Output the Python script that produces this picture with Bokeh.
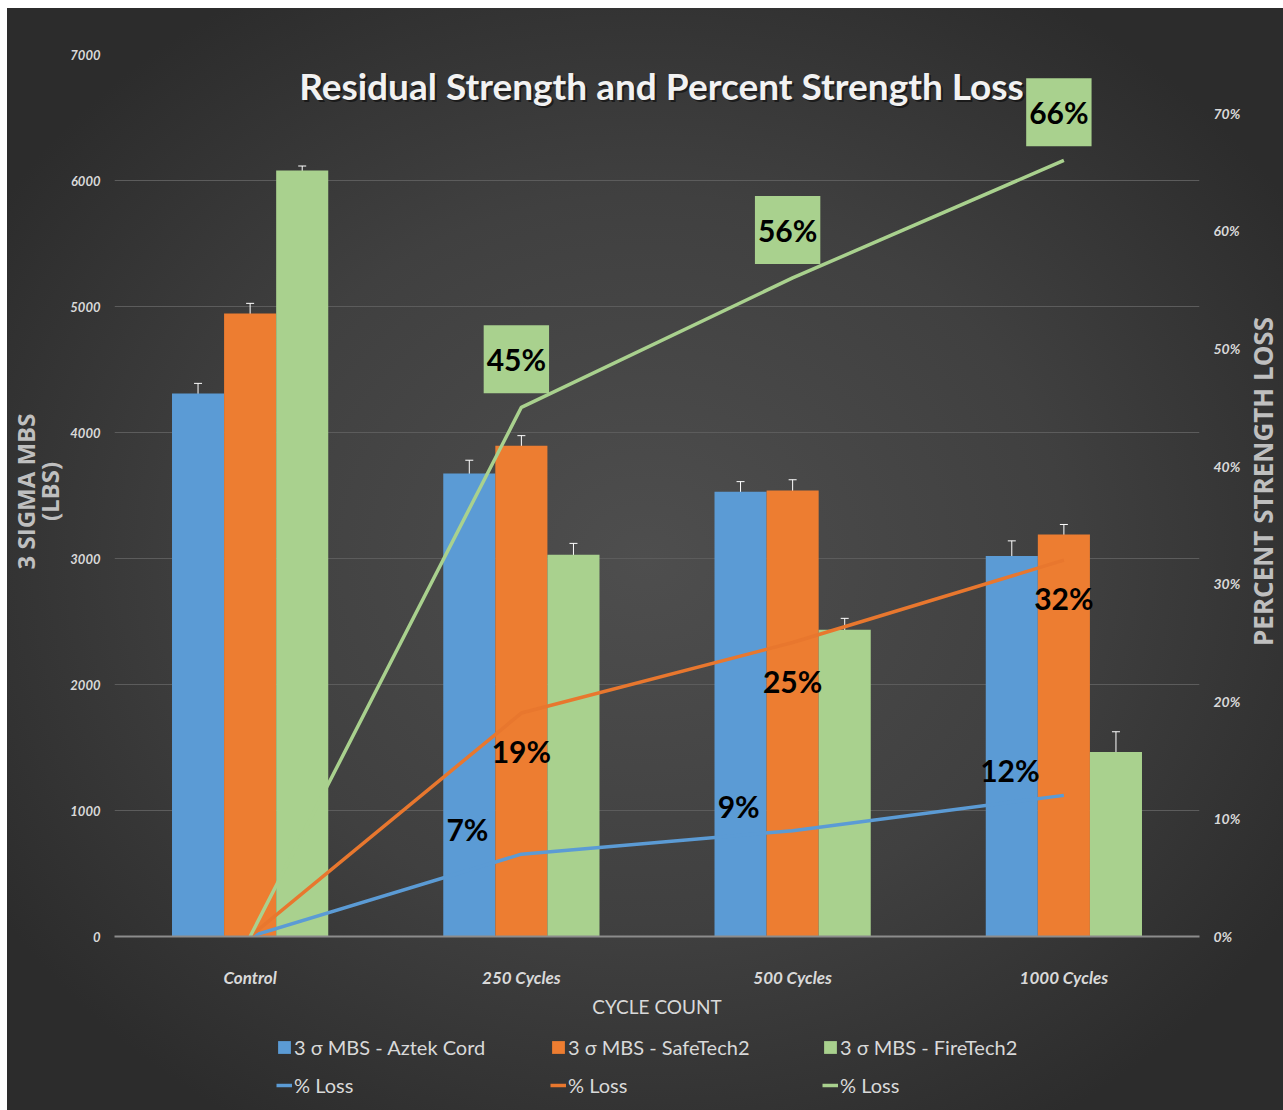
import math
from bokeh.plotting import figure
from bokeh.models import (ColumnDataSource, FactorRange, Range1d, LinearAxis, Whisker, TeeHead,
                          LabelSet, Label, Legend, LegendItem, Spacer, FixedTicker, PrintfTickFormatter)
from bokeh.transform import dodge
from bokeh.core.properties import value
from bokeh.layouts import column, row
from bokeh.embed import file_html
from bokeh.resources import INLINE

# ---------------- data ----------------
categories = ["Control", "250 Cycles", "500 Cycles", "1000 Cycles"]
aztek = [4310, 3675, 3530, 3020]
safetech = [4945, 3895, 3540, 3190]
firetech = [6080, 3030, 2435, 1465]
aztek_err = [80, 105, 80, 120]
safetech_err = [80, 80, 85, 80]
firetech_err = [35, 90, 90, 160]
aztek_loss = [0, 7, 9, 12]
safetech_loss = [0, 19, 25, 32]
firetech_loss = [0, 45, 56, 66]
left_ticks = [0, 1000, 2000, 3000, 4000, 5000, 6000, 7000]
right_ticks = [0, 10, 20, 30, 40, 50, 60, 70]
series_names = ["3 σ MBS - Aztek Cord", "3 σ MBS - SafeTech2", "3 σ MBS - FireTech2"]

BLUE = "#5b9bd5"
ORANGE = "#ed7d31"
LORANGE = "#e8772e"
GREEN = "#a9d18e"
TXT = "#d9d9d9"
AXT = "#bfbfbf"
FONT = "Lato"
BACKDROP = "radial-gradient(ellipse 60% 60% at 50% 50%, #4e4e4e 0%, #404040 55%, #2c2c2c 100%)"


def strip(width, height):
    f = figure(width=width, height=height, x_range=Range1d(0, 1), y_range=Range1d(0, 1),
               output_backend="svg", toolbar_location=None, x_axis_type=None, y_axis_type=None,
               min_border=0)
    f.frame_align = False
    f.background_fill_alpha = 0
    f.border_fill_alpha = 0
    f.outline_line_color = None
    f.grid.grid_line_color = None
    return f


p = figure(width=1176, height=1012, x_range=FactorRange(*categories), y_range=Range1d(0, 7000),
           output_backend="svg", toolbar_location=None,
           min_border_left=41, min_border_right=41, min_border_top=46, min_border_bottom=84)
p.frame_align = False
p.background_fill_alpha = 0
p.border_fill_alpha = 0
p.outline_line_color = None
p.extra_y_ranges = {"pct": Range1d(0, 75)}

src = ColumnDataSource(dict(
    cat=categories, aztek=aztek, safetech=safetech, firetech=firetech,
    a_up=[v + e for v, e in zip(aztek, aztek_err)], a_lo=[v - e for v, e in zip(aztek, aztek_err)],
    s_up=[v + e for v, e in zip(safetech, safetech_err)], s_lo=[v - e for v, e in zip(safetech, safetech_err)],
    f_up=[v + e for v, e in zip(firetech, firetech_err)], f_lo=[v - e for v, e in zip(firetech, firetech_err)],
    a_loss=aztek_loss, s_loss=safetech_loss, f_loss=firetech_loss,
))

W = 0.192
for off, col, color in [(-W, "aztek", BLUE), (0, "safetech", ORANGE), (W, "firetech", GREEN)]:
    p.vbar(x=dodge("cat", off, range=p.x_range), top=col, width=W, source=src,
           fill_color=color, line_color=None)

for off, up, lo in [(-W, "a_up", "a_lo"), (0, "s_up", "s_lo"), (W, "f_up", "f_lo")]:
    wk = Whisker(base=dodge("cat", off, range=p.x_range), upper=up, lower=lo, source=src,
                 line_color="white", line_width=1,
                 upper_head=TeeHead(size=8, line_color="white", line_width=1),
                 lower_head=TeeHead(size=8, line_color="white", line_width=1))
    p.add_layout(wk)

for col, color in [("a_loss", BLUE), ("s_loss", LORANGE), ("f_loss", GREEN)]:
    p.line(x="cat", y=col, source=src, y_range_name="pct", line_color=color, line_width=3.5)

# labels for the loss lines (non-zero points)
def lab_src(vals):
    return ColumnDataSource(dict(cat=categories[1:], v=vals[1:], t=[f"{v}%" for v in vals[1:]]))

fs = "30px"
p.text(x="cat", y="v", text="t", source=lab_src(firetech_loss), y_range_name="pct",
       x_offset=-5, y_offset=-48, text_align="center", text_baseline="middle",
       text_font=value(FONT), text_font_style="bold", text_font_size=fs, text_color="black",
       background_fill_color=GREEN, padding=dict(left=3, right=3, top=16, bottom=16))
p.add_layout(LabelSet(x="cat", y="v", text="t", source=lab_src(safetech_loss), y_range_name="pct",
                      x_offset=0, y_offset=-38, text_align="center", text_baseline="middle",
                      text_font=value(FONT), text_font_style="bold", text_font_size=fs, text_color="black"))
p.add_layout(LabelSet(x="cat", y="v", text="t", source=lab_src(aztek_loss), y_range_name="pct",
                      x_offset=-54, y_offset=25, text_align="center", text_baseline="middle",
                      text_font=value(FONT), text_font_style="bold", text_font_size=fs, text_color="black"))

# axes
p.xgrid.grid_line_color = None
p.ygrid.grid_line_color = "#5c5c5c"
p.ygrid.grid_line_width = 1
p.yaxis.ticker = FixedTicker(ticks=left_ticks)
ax = p.yaxis[0]
ax.axis_line_color = None
ax.major_tick_line_color = None
ax.minor_tick_line_color = None
ax.major_label_text_font = FONT
ax.major_label_text_font_style = "bold italic"
ax.major_label_text_font_size = "13px"
ax.major_label_text_color = TXT
ax.major_label_standoff = 8

rax = LinearAxis(y_range_name="pct", ticker=FixedTicker(ticks=right_ticks),
                 formatter=PrintfTickFormatter(format="%d%%"))
rax.axis_line_color = None
rax.major_tick_line_color = None
rax.minor_tick_line_color = None
rax.major_label_text_font = FONT
rax.major_label_text_font_style = "bold italic"
rax.major_label_text_font_size = "14px"
rax.major_label_text_color = TXT
rax.major_label_standoff = 8
p.add_layout(rax, "right")

xa = p.xaxis[0]
xa.axis_line_color = "#8c8c8c"
xa.axis_line_width = 2
xa.major_tick_line_color = None
xa.minor_tick_line_color = None
xa.major_label_text_font = FONT
xa.major_label_text_font_style = "bold italic"
xa.major_label_text_font_size = "17px"
xa.major_label_text_color = TXT
xa.major_label_standoff = 24
xa.axis_label = "CYCLE COUNT"
xa.axis_label_text_font = FONT
xa.axis_label_text_font_style = "normal"
xa.axis_label_text_font_size = "19px"
xa.axis_label_text_color = TXT
xa.axis_label_standoff = 4

# title (as label inside the frame)
title_text = "Residual Strength and Percent Strength Loss"
p.add_layout(Label(x=549, y=849, x_units="screen", y_units="screen", text=title_text,
                   text_align="center", text_baseline="middle", text_font=FONT,
                   text_font_style="bold", text_font_size="37px", text_color="black", text_alpha=0.5))
p.add_layout(Label(x=547, y=851, x_units="screen", y_units="screen", text=title_text,
                   text_align="center", text_baseline="middle", text_font=FONT,
                   text_font_style="bold", text_font_size="37px", text_color="#f2f2f2"))

# left-hand axis title strip (two lines, reading bottom-to-top)
lstrip = strip(60, 1012)
for txt, xpos in [("3 SIGMA MBS", 18), ("(LBS)", 42)]:
    lstrip.add_layout(Label(x=xpos, y=529, x_units="screen", y_units="screen", text=txt,
                            angle=math.pi / 2, text_align="center", text_baseline="middle",
                            text_font="Open Sans", text_font_style="bold", text_font_size="24px",
                            text_color=AXT))

# right-hand axis title strip (reads bottom-to-top)
rf = strip(40, 1012)
rf.add_layout(Label(x=19, y=539, x_units="screen", y_units="screen", text="PERCENT STRENGTH LOSS",
                    angle=math.pi / 2, text_align="center", text_baseline="middle",
                    text_font="Open Sans", text_font_style="bold", text_font_size="26px",
                    text_color=AXT))

# legend panel (separate strip below the chart)
lf = strip(1276, 90)
# proxy renderers (kept outside the visible range) that only provide legend swatches
lbars = [lf.vbar(x=[5], top=[5], bottom=[4], width=0.1, fill_color=c, line_color=None)
         for c in (BLUE, ORANGE, GREEN)]
llines = [lf.line(x=[5, 6], y=[5, 6], line_color=c, line_width=3.5) for c in (BLUE, LORANGE, GREEN)]
xs = [269, 543, 815]
for i in range(3):
    lg = Legend(items=[LegendItem(label=series_names[i], renderers=[lbars[i]]),
                       LegendItem(label="% Loss", renderers=[llines[i]])],
                location=(xs[i], 13), orientation="vertical",
                background_fill_alpha=0, border_line_alpha=0, padding=0, margin=0,
                glyph_width=16, glyph_height=16, label_standoff=2, spacing=14,
                label_height=24, label_text_font=FONT, label_text_font_size="20px",
                label_text_color=TXT)
    lf.add_layout(lg)

inner = column(row(lstrip, p, rf), lf, styles={"background": BACKDROP})
layout = column(Spacer(height=8), row(Spacer(width=7), inner))
open("out.html", "w").write(file_html(layout, INLINE))
